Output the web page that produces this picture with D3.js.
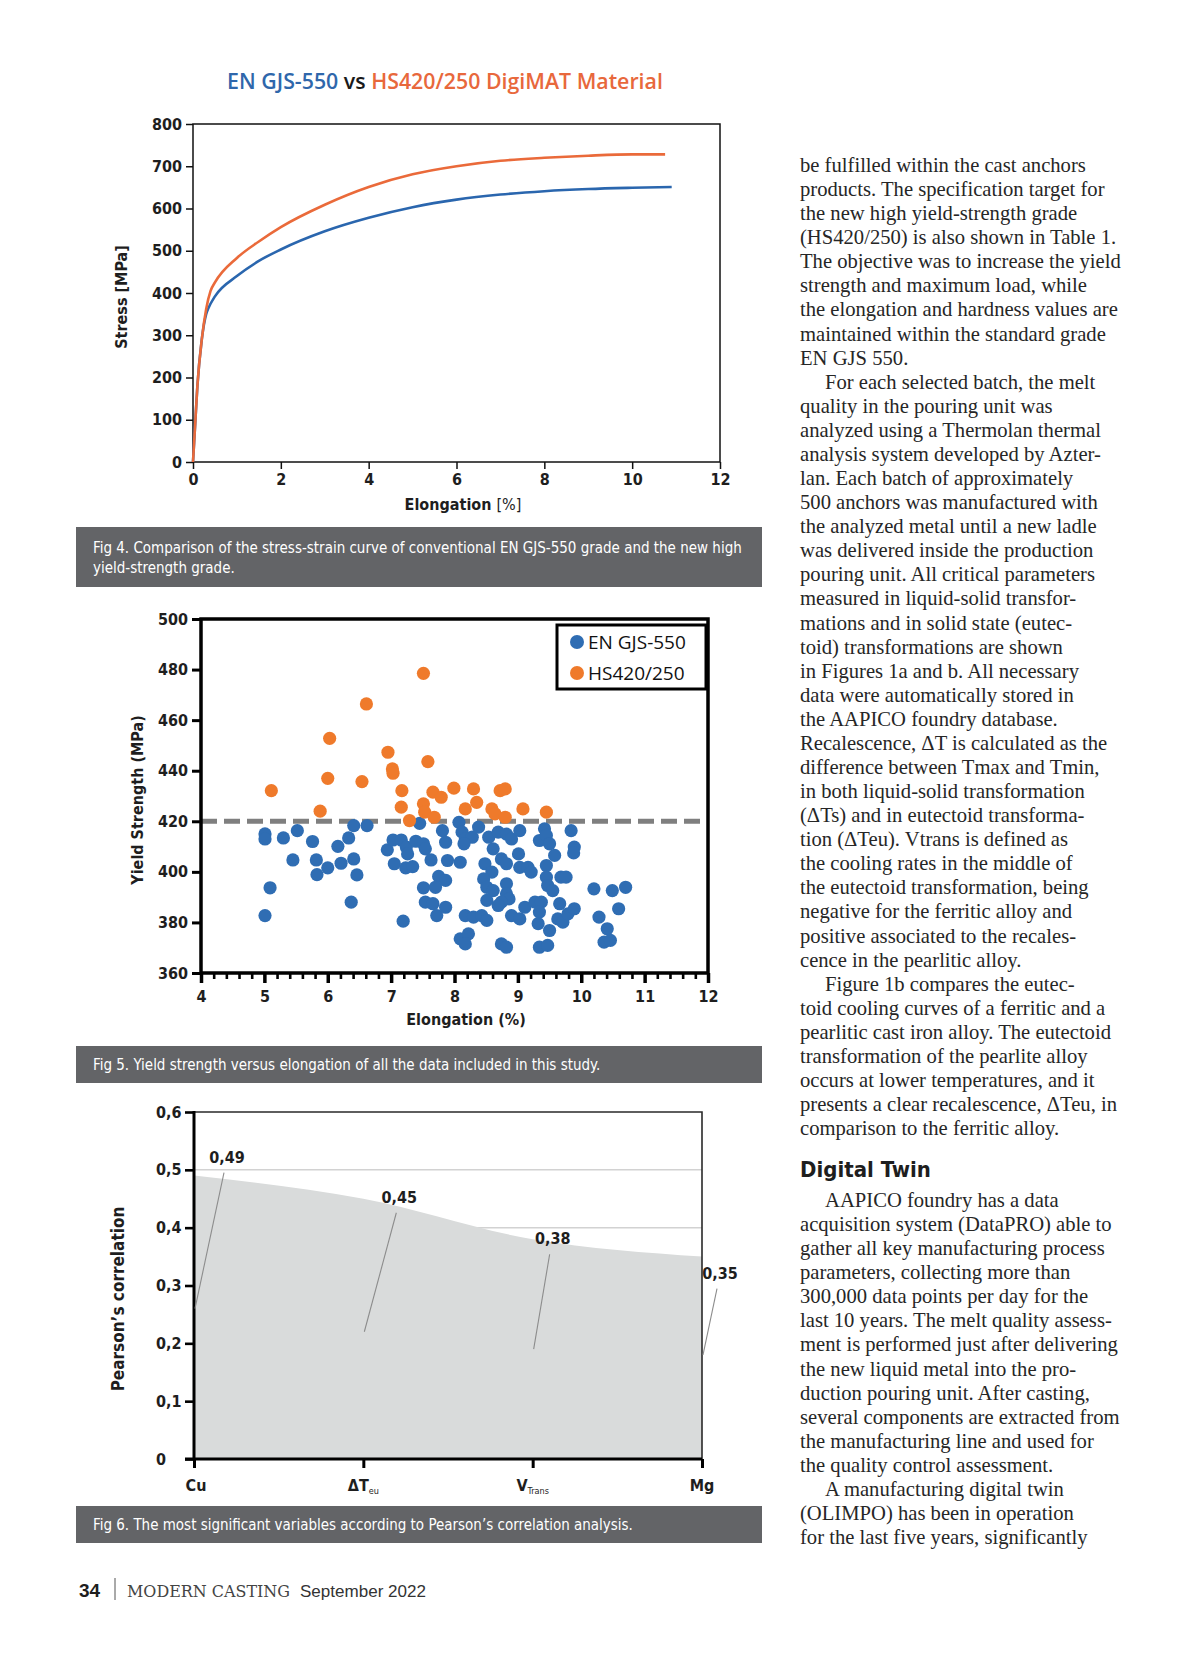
<!DOCTYPE html>
<html>
<head>
<meta charset="utf-8">
<script src="https://cdn.jsdelivr.net/npm/d3@7"></script>
<style>
  body { margin: 0; background: #fff; }
  svg { display: block; }
</style>
</head>
<body>
<div id="page"></div>
<script>
// ---- Fig 4: stress-strain curves
const gjsElong  = [0, 0.05, 0.1, 0.2, 0.3, 0.35, 0.5, 1, 1.5, 2, 3, 4, 5, 6, 7, 8, 9, 10, 10.9];
const gjsStress = [0, 90, 180, 290, 350, 364, 392, 440, 476, 503, 546, 578, 603, 621, 633, 641, 646, 649, 651];
const hsElong   = [0, 0.05, 0.1, 0.2, 0.3, 0.4, 0.5, 1, 1.5, 2, 3, 4, 5, 6, 7, 8, 9, 10, 10.75];
const hsStress  = [0, 90, 180, 290, 362, 405, 425, 483, 522, 556, 609, 651, 681, 700, 713, 720, 725, 728, 728];
const stressTicks = [0, 100, 200, 300, 400, 500, 600, 700, 800];
const elongTicks4 = [0, 2, 4, 6, 8, 10, 12];

// ---- Fig 5: yield strength vs elongation
const enX = [5.01, 5.01, 5.09, 5.01, 5.30, 5.52, 5.45, 5.76, 5.82, 5.83, 6.00, 6.16, 6.21, 6.33, 6.41, 6.41, 6.46, 6.37, 6.62,
  6.94, 7.03, 7.16, 7.24, 7.26, 7.05, 7.23, 7.34, 7.19, 7.39, 7.45, 7.51, 7.54, 7.51, 7.54, 7.66, 7.72, 7.63, 7.75, 7.70,
  7.81, 7.86, 7.89, 7.86, 7.86, 8.07, 8.12, 8.17, 8.28, 8.15, 8.09, 8.38, 8.54, 8.61, 8.69, 8.82, 8.90, 9.03, 8.48, 8.59,
  8.74, 8.82, 9.01, 9.03, 9.16, 9.21, 9.34, 9.42, 9.45, 9.50, 9.58, 9.45, 9.45, 9.47, 9.55, 9.68, 9.76, 9.84, 9.89, 9.88,
  8.46, 8.51, 8.61, 8.82, 8.82, 8.86, 8.74, 8.69, 8.51, 8.17, 8.30, 8.43, 8.51, 8.90, 9.03, 9.11, 9.27, 9.37, 9.34, 9.32,
  9.50, 9.63, 9.71, 9.79, 9.89, 9.66, 8.09, 8.22, 8.17, 8.74, 8.82, 9.34, 9.47, 10.20, 10.49, 10.70, 10.59, 10.28, 10.41,
  10.36, 10.46];
const enY = [415.0, 413.0, 393.7, 382.7, 413.4, 416.3, 404.7, 412.0, 404.7, 398.9, 401.6, 410.1, 403.4, 413.4, 418.3, 405.1, 398.8, 388.0, 418.3,
  408.7, 412.6, 412.6, 409.8, 407.1, 403.2, 401.6, 402.1, 380.5, 412.1, 419.2, 411.1, 409.1, 393.7, 388.0, 387.4, 382.7, 404.7, 398.2, 393.9,
  416.3, 411.7, 404.5, 396.6, 386.0, 419.6, 415.7, 413.0, 413.7, 411.1, 403.8, 417.7, 413.7, 409.1, 415.7, 414.9, 413.0, 416.3, 403.2, 399.9,
  405.1, 403.2, 407.1, 401.8, 401.8, 399.9, 412.4, 417.0, 414.4, 411.1, 406.5, 402.5, 397.9, 394.6, 392.6, 397.9, 397.9, 416.3, 409.8, 407.5,
  397.2, 393.9, 392.6, 395.3, 391.3, 389.3, 388.0, 386.7, 388.7, 382.7, 382.1, 382.7, 380.8, 382.7, 381.4, 386.0, 388.0, 388.0, 384.1, 379.5,
  376.8, 381.4, 380.1, 383.4, 385.4, 387.4, 373.5, 375.5, 371.5, 371.5, 370.2, 370.2, 370.9, 393.3, 392.6, 393.9, 385.4, 382.1, 377.5,
  372.2, 372.9];
const hsX = [5.11, 7.51, 6.61, 6.03, 6.00, 6.54, 5.88, 6.95, 7.02, 7.03, 7.58, 7.17, 7.16, 7.29, 7.51, 7.53, 7.66, 7.79, 7.68,
  7.99, 8.30, 8.35, 8.17, 8.59, 8.64, 8.72, 8.80, 8.80, 9.08, 9.45];
const hsY = [432.1, 478.5, 466.4, 452.8, 437.0, 435.7, 424.0, 447.3, 440.7, 439.0, 443.6, 432.1, 425.6, 420.3, 426.9, 423.6, 431.5, 429.5, 421.6,
  433.1, 432.8, 427.5, 424.9, 424.9, 422.9, 432.1, 432.8, 421.6, 424.9, 423.6];
const yieldTarget = 420;
const yieldTicks = [360, 380, 400, 420, 440, 460, 480, 500];
const elongTicks5 = [4, 5, 6, 7, 8, 9, 10, 11, 12];

// ---- Fig 6: Pearson's correlation
const pearsonVars = ['Cu', 'ΔTeu', 'VTrans', 'Mg'];
const pearsonMain = ['Cu', 'ΔT', 'V', 'Mg'];
const pearsonSub  = ['', 'eu', 'Trans', ''];
const pearsonVals = [0.49, 0.45, 0.38, 0.35];
const pearsonTicks = [0, 0.1, 0.2, 0.3, 0.4, 0.5, 0.6];
// annotation placement: label offsets (px) and leader line ends (value units)
const labelDx = [33, 36, 20, 18];
const labelDy = [-19, -2, -1, 16];
const leaderTo = [0.26, 0.22, 0.19, 0.18];

// ---- page text
const captions = [
  ['Fig 4. Comparison of the stress-strain curve of conventional EN GJS-550 grade and the new high', 'yield-strength grade.'],
  ['Fig 5. Yield strength versus elongation of all the data included in this study.'],
  ['Fig 6. The most significant variables according to Pearson’s correlation analysis.']
];
const bodyA = [
  'be fulfilled within the cast anchors',
  'products. The specification target for',
  'the new high yield-strength grade',
  '(HS420/250) is also shown in Table 1.',
  'The objective was to increase the yield',
  'strength and maximum load, while',
  'the elongation and hardness values are',
  'maintained within the standard grade',
  'EN GJS 550.',
  '>For each selected batch, the melt',
  'quality in the pouring unit was',
  'analyzed using a Thermolan thermal',
  'analysis system developed by Azter-',
  'lan. Each batch of approximately',
  '500 anchors was manufactured with',
  'the analyzed metal until a new ladle',
  'was delivered inside the production',
  'pouring unit. All critical parameters',
  'measured in liquid-solid transfor-',
  'mations and in solid state (eutec-',
  'toid) transformations are shown',
  'in Figures 1a and b. All necessary',
  'data were automatically stored in',
  'the AAPICO foundry database.',
  'Recalescence, ΔT is calculated as the',
  'difference between Tmax and Tmin,',
  'in both liquid-solid transformation',
  '(ΔTs) and in eutectoid transforma-',
  'tion (ΔTeu). Vtrans is defined as',
  'the cooling rates in the middle of',
  'the eutectoid transformation, being',
  'negative for the ferritic alloy and',
  'positive associated to the recales-',
  'cence in the pearlitic alloy.',
  '>Figure 1b compares the eutec-',
  'toid cooling curves of a ferritic and a',
  'pearlitic cast iron alloy. The eutectoid',
  'transformation of the pearlite alloy',
  'occurs at lower temperatures, and it',
  'presents a clear recalescence, ΔTeu, in',
  'comparison to the ferritic alloy.'
];
const bodyB = [
  '>AAPICO foundry has a data',
  'acquisition system (DataPRO) able to',
  'gather all key manufacturing process',
  'parameters, collecting more than',
  '300,000 data points per day for the',
  'last 10 years. The melt quality assess-',
  'ment is performed just after delivering',
  'the new liquid metal into the pro-',
  'duction pouring unit. After casting,',
  'several components are extracted from',
  'the manufacturing line and used for',
  'the quality control assessment.',
  '>A manufacturing digital twin',
  '(OLIMPO) has been in operation',
  'for the last five years, significantly'
];

const W = 1200, H = 1657;
const narrow = '"Liberation Sans Narrow", "DejaVu Sans Condensed", "Roboto", sans-serif';
const blue = '#2f6db3', orange = '#ef7a2b';

const svg = d3.select('#page').append('svg')
    .attr('width', W)
    .attr('height', H);
svg.append('rect').attr('width', W).attr('height', H).attr('fill', '#fff');

// scale a text's font size so that it takes the given width
function fitWidth(sel, target) {
    const len = sel.node().getComputedTextLength();
    const fs = parseFloat(sel.attr('font-size'));
    sel.attr('font-size', fs * target / len);
    return fs * target / len;
}

function styleAxis(g, size) {
    g.select('.domain').remove();
    g.selectAll('text')
        .attr('font-family', narrow)
        .attr('font-weight', 'bold')
        .attr('font-size', size)
        .attr('fill', '#1e1e1e');
}

// ================= Fig 4 =================
const title = svg.append('text')
    .attr('x', 445).attr('y', 89)
    .attr('text-anchor', 'middle')
    .attr('font-family', '"Open Sans", sans-serif')
    .attr('font-weight', 600)
    .attr('font-size', 20);
title.append('tspan').attr('fill', '#2f67ab').text('EN GJS-550 ');
title.append('tspan').attr('fill', '#1a1a1a').text('vs ');
title.append('tspan').attr('fill', '#e8683c').text('HS420/250 DigiMAT Material');
fitWidth(title, 436);

const f4 = { left: 193, right: 720, top: 124, bottom: 462 };
const x4 = d3.scaleLinear().domain([0, 12]).range([f4.left, f4.right]);
const y4 = d3.scaleLinear().domain([0, 800]).range([f4.bottom, f4.top]);
const g4 = svg.append('g');

g4.append('g')
    .attr('transform', `translate(${f4.left},0)`)
    .call(d3.axisLeft(y4).tickValues(stressTicks).tickSize(7).tickPadding(4))
    .call(g => styleAxis(g, 16))
    .selectAll('line').attr('stroke', '#111').attr('stroke-width', 1.5);

g4.append('g')
    .attr('transform', `translate(0,${f4.bottom})`)
    .call(d3.axisBottom(x4).tickValues(elongTicks4).tickSize(7).tickPadding(5))
    .call(g => styleAxis(g, 16))
    .selectAll('line').attr('stroke', '#111').attr('stroke-width', 1.5);

g4.append('rect')
    .attr('x', f4.left).attr('y', f4.top)
    .attr('width', f4.right - f4.left).attr('height', f4.bottom - f4.top)
    .attr('fill', 'none').attr('stroke', '#111').attr('stroke-width', 1.5);

const line4 = d3.line().curve(d3.curveMonotoneX);
g4.append('path')
    .attr('d', line4(gjsElong.map((e, i) => [x4(e), y4(gjsStress[i])])))
    .attr('fill', 'none').attr('stroke', '#2a66ae').attr('stroke-width', 2.6);
g4.append('path')
    .attr('d', line4(hsElong.map((e, i) => [x4(e), y4(hsStress[i])])))
    .attr('fill', 'none').attr('stroke', '#ea6a3a').attr('stroke-width', 2.6);

const xl4 = g4.append('text')
    .attr('x', 463).attr('y', 510).attr('text-anchor', 'middle')
    .attr('font-family', narrow).attr('font-size', 16).attr('fill', '#1e1e1e');
xl4.append('tspan').attr('font-weight', 'bold').text('Elongation ');
xl4.append('tspan').text('[%]');

g4.append('text')
    .attr('transform', 'translate(127,297) rotate(-90)')
    .attr('text-anchor', 'middle')
    .attr('font-family', narrow).attr('font-weight', 'bold').attr('font-size', 16)
    .attr('fill', '#1e1e1e')
    .text('Stress [MPa]');

// ================= caption bars =================
const bars = [
    { y: 527, h: 60, lines: [553, 573] },
    { y: 1046, h: 37, lines: [1070] },
    { y: 1506, h: 37, lines: [1530] }
];
let capSize = null;
bars.forEach((b, k) => {
    svg.append('rect')
        .attr('x', 76).attr('y', b.y).attr('width', 686).attr('height', b.h)
        .attr('fill', '#636467');
    captions[k].forEach((t, j) => {
        const tx = svg.append('text')
            .attr('x', 93).attr('y', b.lines[j])
            .attr('font-family', narrow).attr('font-size', capSize || 16)
            .attr('fill', '#fff')
            .text(t);
        if (capSize === null) capSize = fitWidth(tx, 649);
    });
});

// ================= Fig 5 =================
const f5 = { left: 201, right: 708, top: 619, bottom: 973 };
const x5 = d3.scaleLinear().domain([4, 12]).range([f5.left, f5.right]);
const y5 = d3.scaleLinear().domain([360, 500]).range([f5.bottom, f5.top]);
const g5 = svg.append('g');

g5.append('g')
    .attr('transform', `translate(${f5.left},0)`)
    .call(d3.axisLeft(y5).tickValues(yieldTicks).tickSize(9).tickPadding(4))
    .call(g => styleAxis(g, 16))
    .selectAll('line').attr('stroke', '#000').attr('stroke-width', 3);

const minor5 = d3.range(40, 121, 2).map(v => v / 10).filter(v => !elongTicks5.includes(v));
g5.append('g')
    .attr('transform', `translate(0,${f5.bottom})`)
    .call(d3.axisBottom(x5).tickValues(minor5).tickSize(6).tickFormat(''))
    .call(g => g.select('.domain').remove())
    .selectAll('line').attr('stroke', '#000').attr('stroke-width', 2.6);

g5.append('g')
    .attr('transform', `translate(0,${f5.bottom})`)
    .call(d3.axisBottom(x5).tickValues(elongTicks5).tickSize(10).tickPadding(8))
    .call(g => styleAxis(g, 16))
    .selectAll('line').attr('stroke', '#000').attr('stroke-width', 3.5);

g5.append('line')
    .attr('x1', x5(4)).attr('x2', x5(11.9))
    .attr('y1', y5(yieldTarget)).attr('y2', y5(yieldTarget))
    .attr('stroke', '#7f7f7f').attr('stroke-width', 5)
    .attr('stroke-dasharray', '16 7');

g5.append('g').selectAll('circle')
    .data(enX.map((x, i) => [x, enY[i]]))
    .join('circle')
    .attr('cx', d => x5(d[0])).attr('cy', d => y5(d[1]))
    .attr('r', 6.6).attr('fill', blue);

g5.append('g').selectAll('circle')
    .data(hsX.map((x, i) => [x, hsY[i]]))
    .join('circle')
    .attr('cx', d => x5(d[0])).attr('cy', d => y5(d[1]))
    .attr('r', 6.6).attr('fill', orange);

g5.append('rect')
    .attr('x', f5.left).attr('y', f5.top)
    .attr('width', f5.right - f5.left).attr('height', f5.bottom - f5.top)
    .attr('fill', 'none').attr('stroke', '#000').attr('stroke-width', 3.5);

// legend
const leg = g5.append('g').attr('transform', 'translate(557,625)');
leg.append('rect').attr('width', 149).attr('height', 64)
    .attr('fill', '#fff').attr('stroke', '#000').attr('stroke-width', 3);
[['EN GJS-550', blue], ['HS420/250', orange]].forEach((d, i) => {
    leg.append('circle').attr('cx', 20).attr('cy', 17 + i * 31).attr('r', 7).attr('fill', d[1]);
    leg.append('text')
        .attr('x', 31).attr('y', 24 + i * 31)
        .attr('font-family', '"Open Sans", sans-serif').attr('font-size', 19)
        .attr('fill', '#111')
        .text(d[0]);
});

g5.append('text')
    .attr('x', 466).attr('y', 1025).attr('text-anchor', 'middle')
    .attr('font-family', narrow).attr('font-weight', 'bold').attr('font-size', 16)
    .attr('fill', '#1e1e1e')
    .text('Elongation (%)');

g5.append('text')
    .attr('transform', 'translate(143,800) rotate(-90)')
    .attr('text-anchor', 'middle')
    .attr('font-family', narrow).attr('font-weight', 'bold').attr('font-size', 16)
    .attr('fill', '#1e1e1e')
    .text('Yield Strength (MPa)');

// ================= Fig 6 =================
const f6 = { left: 194, right: 702, top: 1112, bottom: 1459 };
const x6 = d3.scalePoint().domain(pearsonVars).range([f6.left, f6.right]);
const y6 = d3.scaleLinear().domain([0, 0.6]).range([f6.bottom, f6.top]);
const g6 = svg.append('g');

g6.append('g').selectAll('line')
    .data(pearsonTicks.slice(1, -1))
    .join('line')
    .attr('x1', f6.left).attr('x2', f6.right)
    .attr('y1', d => y6(d)).attr('y2', d => y6(d))
    .attr('stroke', '#d2d2d2').attr('stroke-width', 1.5);

const area6 = d3.area()
    .x((d, i) => x6(pearsonVars[i]))
    .y0(y6(0))
    .y1(d => y6(d))
    .curve(d3.curveMonotoneX);
g6.append('path')
    .attr('d', area6(pearsonVals))
    .attr('fill', '#d9dbdb');

// top + right frame
g6.append('path')
    .attr('d', `M${f6.left},${f6.top}H${f6.right}V${f6.bottom}`)
    .attr('fill', 'none').attr('stroke', '#2a2a2a').attr('stroke-width', 1.6);

g6.append('g')
    .attr('transform', `translate(${f6.left},0)`)
    .call(d3.axisLeft(y6).tickValues(pearsonTicks).tickSize(9)
        .tickFormat(d => d === 0 ? '0' : d3.format('.1f')(d).replace('.', ',')))
    .call(g => styleAxis(g, 16))
    .call(g => g.selectAll('text').attr('text-anchor', 'start').attr('x', -38))
    .call(g => g.selectAll('line').attr('stroke', '#000').attr('stroke-width', 2.6));
g6.append('line')
    .attr('x1', f6.left).attr('x2', f6.left).attr('y1', f6.top - 1).attr('y2', f6.bottom)
    .attr('stroke', '#000').attr('stroke-width', 3);

g6.append('g')
    .attr('transform', `translate(0,${f6.bottom})`)
    .call(d3.axisBottom(x6).tickSize(9).tickFormat(''))
    .call(g => g.select('.domain').remove())
    .selectAll('line').attr('stroke', '#000').attr('stroke-width', 3);
g6.append('line')
    .attr('x1', f6.left - 9).attr('x2', f6.right).attr('y1', f6.bottom).attr('y2', f6.bottom)
    .attr('stroke', '#000').attr('stroke-width', 3);

// category labels with subscripts
pearsonVars.forEach((v, i) => {
    const t = g6.append('text')
        .attr('x', x6(v) + (i === 0 ? 2 : 0)).attr('y', 1491)
        .attr('text-anchor', 'middle')
        .attr('font-family', narrow).attr('font-weight', 'bold').attr('font-size', 16)
        .attr('fill', '#1e1e1e');
    t.append('tspan').text(pearsonMain[i]);
    if (pearsonSub[i]) {
        t.append('tspan').attr('font-size', 9).attr('font-weight', 'normal')
            .attr('dy', 3).text(pearsonSub[i]);
    }
});

// value labels with leader lines
pearsonVals.forEach((v, i) => {
    const px = x6(pearsonVars[i]);
    const lx = px + labelDx[i], ly = y6(v) + labelDy[i];
    g6.append('line')
        .attr('x1', lx - 3).attr('y1', ly + 16)
        .attr('x2', px + 1).attr('y2', y6(leaderTo[i]))
        .attr('stroke', '#8c8c8c').attr('stroke-width', 1.1);
    g6.append('text')
        .attr('x', lx).attr('y', ly + 6)
        .attr('text-anchor', 'middle')
        .attr('font-family', narrow).attr('font-weight', 'bold').attr('font-size', 16)
        .attr('fill', '#1e1e1e')
        .text(d3.format('.2f')(v).replace('.', ','));
});

g6.append('text')
    .attr('transform', 'translate(124,1299) rotate(-90)')
    .attr('text-anchor', 'middle')
    .attr('font-family', narrow).attr('font-weight', 'bold').attr('font-size', 17)
    .attr('fill', '#1e1e1e')
    .text('Pearson’s correlation');

// ================= body text column =================
const serif = '"Liberation Serif", "DejaVu Serif", serif';
const colX = 800, indent = 25, lead = 24.08;
const probe = svg.append('text')
    .attr('font-family', serif).attr('font-size', 19)
    .text(bodyA[0]);
const bodySize = fitWidth(probe, 286);
probe.remove();

function writeLines(lines, y0) {
    lines.forEach((l, i) => {
        const ind = l.startsWith('>');
        svg.append('text')
            .attr('x', colX + (ind ? indent : 0))
            .attr('y', y0 + i * lead)
            .attr('font-family', serif).attr('font-size', bodySize)
            .attr('fill', '#262626')
            .text(ind ? l.slice(1) : l);
    });
}
writeLines(bodyA, 172);

svg.append('text')
    .attr('x', colX).attr('y', 1177)
    .attr('font-family', narrow).attr('font-weight', 'bold').attr('font-size', 22)
    .attr('fill', '#1e1e1e')
    .text('Digital Twin');

writeLines(bodyB, 1207);

// ================= footer =================
svg.append('text')
    .attr('x', 79).attr('y', 1597)
    .attr('font-family', '"Liberation Sans", Arial, sans-serif').attr('font-weight', 'bold')
    .attr('font-size', 19).attr('fill', '#1e1e1e')
    .text('34');
svg.append('line')
    .attr('x1', 115).attr('x2', 115).attr('y1', 1578).attr('y2', 1600)
    .attr('stroke', '#555').attr('stroke-width', 1);
svg.append('text')
    .attr('x', 127).attr('y', 1597)
    .attr('font-family', '"DejaVu Serif", serif').attr('font-weight', 300)
    .attr('font-size', 17).attr('fill', '#444')
    .attr('textLength', 163).attr('lengthAdjust', 'spacingAndGlyphs')
    .text('MODERN CASTING');
svg.append('text')
    .attr('x', 300).attr('y', 1597)
    .attr('font-family', '"Liberation Sans", Arial, sans-serif')
    .attr('font-size', 17).attr('fill', '#333')
    .attr('textLength', 126).attr('lengthAdjust', 'spacingAndGlyphs')
    .text('September 2022');
</script>
</body>
</html>
